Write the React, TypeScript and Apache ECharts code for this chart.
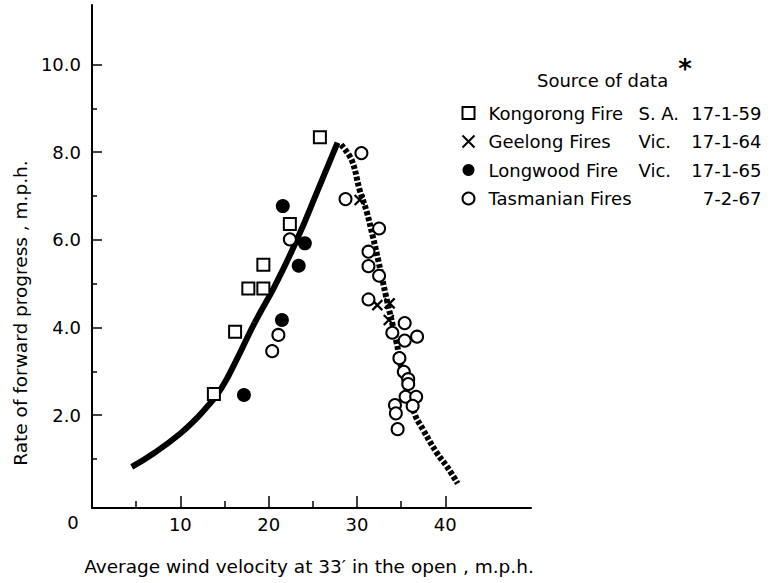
import React, { useEffect, useRef } from "react";
import * as echarts from "echarts";

const kongorongX = [13.8, 16.2, 17.7, 19.4, 19.4, 22.4, 25.8];
const kongorongY = [2.48, 3.9, 4.89, 4.89, 5.43, 6.36, 8.34];

const geelongX = [30.3, 32.3, 33.7, 33.6];
const geelongY = [6.91, 4.51, 4.55, 4.17];

const longwoodX = [17.2, 21.5, 21.6, 23.4, 24.1];
const longwoodY = [2.46, 4.17, 6.77, 5.41, 5.92];

const tasmanianX = [20.4, 21.1, 22.4, 28.7, 30.5, 31.3, 31.3, 31.3, 32.5, 32.5, 34.0, 35.4, 35.4, 36.8, 34.8, 35.3, 35.8, 35.8, 35.5, 36.7, 36.3, 34.3, 34.4, 34.6];
const tasmanianY = [3.46, 3.83, 6.01, 6.93, 7.98, 5.73, 5.4, 4.64, 6.26, 5.18, 3.88, 4.1, 3.7, 3.79, 3.3, 2.99, 2.82, 2.71, 2.42, 2.42, 2.21, 2.23, 2.04, 1.68];

const risingX = [4.5, 7.0, 10.0, 12.0, 13.2, 14.7, 16.6, 18.4, 20.7, 23.2, 25.6, 27.8];
const risingY = [0.82, 1.13, 1.58, 1.96, 2.23, 2.63, 3.36, 4.1, 4.95, 6.0, 7.15, 8.22];

const fallingX = [28.2, 29.4, 30.3, 31.1, 31.8, 32.4, 33.3, 34.5, 35.1, 36.5, 37.5, 39.0, 40.2, 41.4];
const fallingY = [8.17, 7.82, 7.14, 6.64, 6.07, 5.54, 4.7, 3.64, 3.0, 2.04, 1.66, 1.15, 0.82, 0.44];

const xMajorTicks = [10, 20, 30, 40];
const xMinorTicks = [5, 15, 25, 35];
const yMajorTicks = [2, 4, 6, 8, 10];
const yMinorTicks = [1, 3, 5, 7, 9];

const legendNames = ["Kongorong Fire", "Geelong Fires", "Longwood Fire", "Tasmanian Fires"];
const legendStates = ["S. A.", "Vic.", "Vic.", ""];
const legendDates = ["17-1-59", "17-1-64", "17-1-65", "7-2-67"];

const FONT = "DejaVu Sans";

const zip = (xs: number[], ys: number[]) => xs.map((x, i) => [x, ys[i]]);

export default function App() {
  const ref = useRef<HTMLDivElement>(null);
  useEffect(() => {
    const chart = echarts.init(ref.current!, null, { renderer: "svg" });
    const axisLineStyle = { color: "#000", width: 2 };
    const tickStyle = { color: "#000", width: 1.5 };
    const labelStyle = { color: "#000", fontFamily: FONT, fontSize: 18 };
    const legendText = { fontFamily: FONT, fontSize: 18, color: "#000", lineHeight: 20 };
    const option: any = {
      animation: false,
      backgroundColor: "#fff",
      grid: { left: 92, right: 250, top: 5, bottom: 75 },
      xAxis: [
        {
          type: "value",
          min: 0,
          max: 49.7,
          position: "bottom",
          axisLine: { show: true, onZero: false, lineStyle: axisLineStyle },
          axisTick: { show: true, inside: true, length: 12, customValues: xMajorTicks, lineStyle: tickStyle },
          axisLabel: { show: true, customValues: xMajorTicks, margin: 7, ...labelStyle },
          splitLine: { show: false },
        },
        {
          type: "value",
          min: 0,
          max: 49.7,
          position: "bottom",
          axisLine: { show: false, onZero: false },
          axisTick: { show: true, inside: true, length: 7, customValues: xMinorTicks, lineStyle: tickStyle },
          axisLabel: { show: false },
          splitLine: { show: false },
        },
      ],
      yAxis: [
        {
          type: "value",
          min: -0.12,
          max: 11.36,
          position: "left",
          axisLine: { show: true, onZero: false, lineStyle: axisLineStyle },
          axisTick: { show: true, inside: true, length: 10, customValues: yMajorTicks, lineStyle: tickStyle },
          axisLabel: {
            show: true,
            customValues: yMajorTicks,
            margin: 11,
            ...labelStyle,
            formatter: (v: number) => v.toFixed(1),
          },
          splitLine: { show: false },
        },
        {
          type: "value",
          min: -0.12,
          max: 11.36,
          position: "left",
          axisLine: { show: false, onZero: false },
          axisTick: { show: true, inside: true, length: 5, customValues: yMinorTicks, lineStyle: tickStyle },
          axisLabel: { show: false },
          splitLine: { show: false },
        },
      ],
      legend: {
        orient: "vertical",
        left: 460,
        top: 103,
        padding: 0,
        itemWidth: 12,
        itemHeight: 12,
        itemGap: 8.5,
        data: legendNames,
        textStyle: {
          ...legendText,
          rich: {
            g: { width: 9 },
            n: { width: 150, ...legendText },
            s: { width: 48, ...legendText },
            d: { width: 75, align: "right", ...legendText },
          },
        },
        formatter: (name: string) => {
          const i = legendNames.indexOf(name);
          return `{g|}{n|${name}}{s|${legendStates[i]}}{d|${legendDates[i]}}`;
        },
      },
      graphic: [
        { type: "text", x: 537, y: 80, style: { text: "Source of data", font: `18px "${FONT}"`, fill: "#000", textVerticalAlign: "middle" } },
        { type: "text", x: 685, y: 69, style: { text: "*", font: `bold 26px "${FONT}"`, fill: "#000", textAlign: "center", textVerticalAlign: "middle" } },
        { type: "text", x: 73, y: 522, style: { text: "0", font: `18px "${FONT}"`, fill: "#000", textAlign: "center", textVerticalAlign: "middle" } },
        {
          type: "text",
          x: 309,
          y: 566,
          style: { text: "Average wind velocity at 33\u2032 in the open , m.p.h.", font: `18.5px "${FONT}"`, fill: "#000", textAlign: "center", textVerticalAlign: "middle" },
        },
        {
          type: "text",
          x: 20,
          y: 313,
          rotation: Math.PI / 2,
          style: { text: "Rate of forward progress , m.p.h.", font: `18.5px "${FONT}"`, fill: "#000", textAlign: "center", textVerticalAlign: "middle" },
        },
      ],
      series: [
        {
          name: "rising",
          type: "line",
          smooth: 0.5,
          symbol: "none",
          data: zip(risingX, risingY),
          lineStyle: { color: "#000", width: 6, cap: "butt" },
          z: 1,
        },
        {
          name: "falling",
          type: "line",
          smooth: 0.4,
          symbol: "none",
          data: zip(fallingX, fallingY),
          lineStyle: { color: "#000", width: 6, type: [4, 2], cap: "butt" },
          z: 1,
        },
        {
          name: "Kongorong Fire",
          type: "scatter",
          symbol: "rect",
          symbolSize: 12,
          data: zip(kongorongX, kongorongY),
          itemStyle: { color: "#fff", borderColor: "#000", borderWidth: 2, opacity: 1 },
          z: 3,
        },
        {
          name: "Geelong Fires",
          type: "scatter",
          symbol: "path://M0,0L10,10M10,0L0,10",
          symbolSize: 10,
          data: zip(geelongX, geelongY),
          itemStyle: { color: "none", borderColor: "#000", borderWidth: 2.2, opacity: 1 },
          z: 3,
        },
        {
          name: "Longwood Fire",
          type: "scatter",
          symbol: "circle",
          symbolSize: 14,
          data: zip(longwoodX, longwoodY),
          itemStyle: { color: "#000", borderColor: "#000", borderWidth: 0, opacity: 1 },
          z: 3,
        },
        {
          name: "Tasmanian Fires",
          type: "scatter",
          symbol: "circle",
          symbolSize: 12,
          data: zip(tasmanianX, tasmanianY),
          itemStyle: { color: "#fff", borderColor: "#000", borderWidth: 2, opacity: 1 },
          z: 3,
        },
      ],
    };
    chart.setOption(option);
    return () => chart.dispose();
  }, []);
  return <div ref={ref} style={{ position: "fixed", left: 0, top: 0, width: 781, height: 583, background: "#fff" }} />;
}
